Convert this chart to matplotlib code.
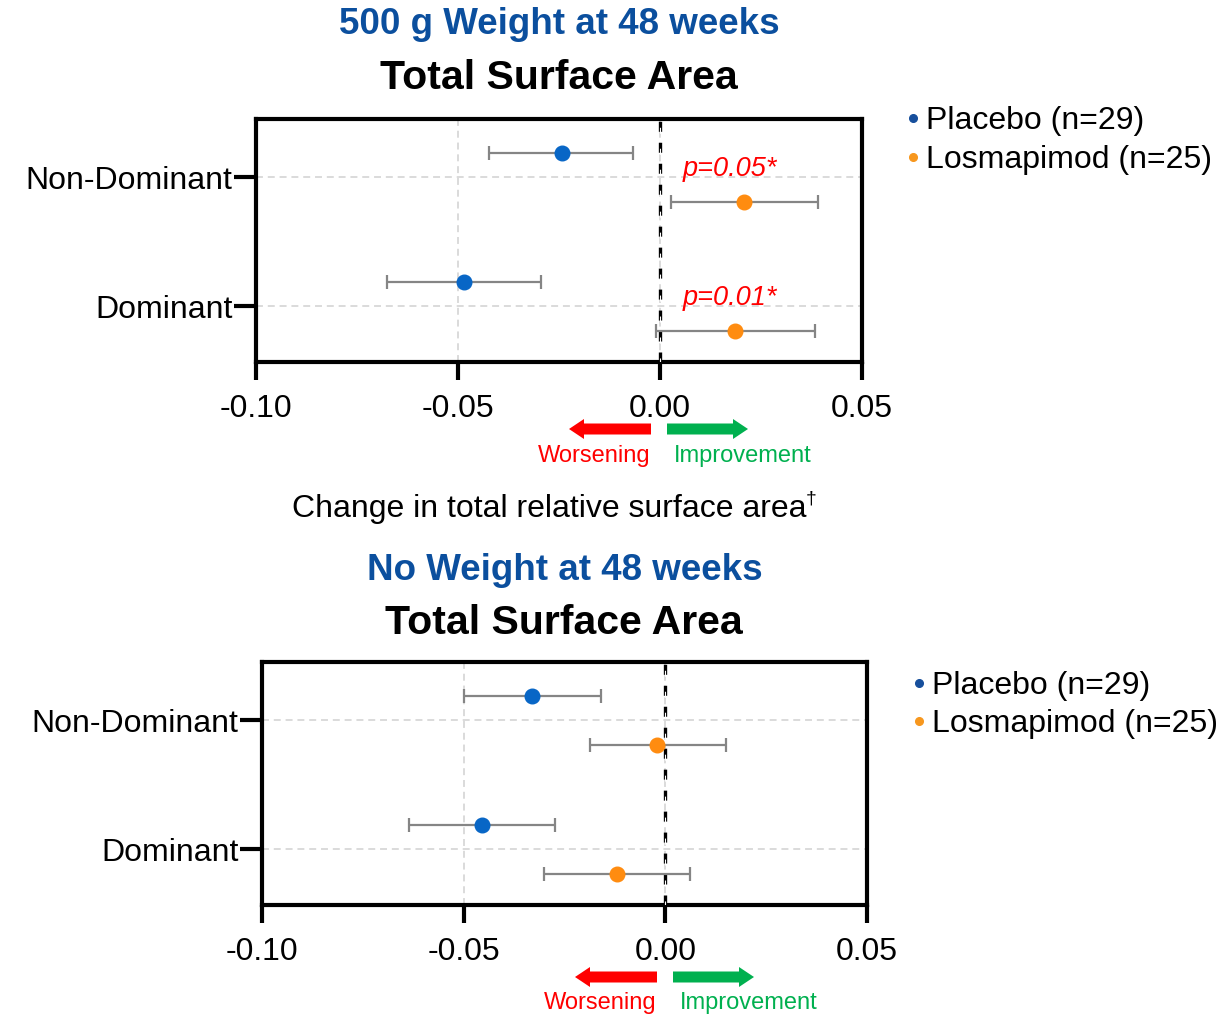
import matplotlib
matplotlib.use("Agg")
import matplotlib.pyplot as plt
from matplotlib.lines import Line2D
from matplotlib.patches import FancyArrow

plt.rcParams['font.family'] = ['Liberation Sans', 'DejaVu Sans']
plt.rcParams['lines.scale_dashes'] = False

# ---- data -------------------------------------------------------------
categories = ["Dominant", "Non-Dominant"]
groups = ["Placebo (n=29)", "Losmapimod (n=25)"]
xticks = [-0.10, -0.05, 0.00, 0.05]
xtick_labels = ["-0.10", "-0.05", "0.00", "0.05"]

# 500 g weight at 48 weeks: [Dominant, Non-Dominant]
w500_placebo_mean = [-0.0485, -0.0243]
w500_placebo_lo = [-0.0676, -0.0423]
w500_placebo_hi = [-0.0295, -0.0067]
w500_losma_mean = [0.0186, 0.0208]
w500_losma_lo = [-0.0010, 0.0027]
w500_losma_hi = [0.0384, 0.0391]
w500_pvalues = ["p=0.01*", "p=0.05*"]

# No weight at 48 weeks: [Dominant, Non-Dominant]
w0_placebo_mean = [-0.0454, -0.0330]
w0_placebo_lo = [-0.0635, -0.0500]
w0_placebo_hi = [-0.0273, -0.0159]
w0_losma_mean = [-0.0119, -0.0020]
w0_losma_lo = [-0.0300, -0.0188]
w0_losma_hi = [0.0062, 0.0151]

BLUE = "#0866c6"
ORANGE = "#ff8c10"
TITLE_BLUE = "#0b4f9e"
ERR_GRAY = "#858585"
GRID_GRAY = "#d4d4d4"
RED = "#ff0000"
GREEN = "#00b04f"

W, H = 1231, 1014
fig = plt.figure(figsize=(W / 100, H / 100), dpi=100)


def fx(px):
    return px / W


def fy(py):
    return 1 - py / H


def panel(rect, pm, plo, phi, lm, llo, lhi, pvals=None):
    ax = fig.add_axes(rect)
    offset = 0.19
    ypos = list(range(len(categories)))
    for means, lo, hi, col, sgn in ((pm, plo, phi, BLUE, 1), (lm, llo, lhi, ORANGE, -1)):
        ys = [y + sgn * offset for y in ypos]
        xerr = [[m - l for m, l in zip(means, lo)], [h - m for m, h in zip(means, hi)]]
        ax.errorbar(means, ys, xerr=xerr, fmt='o', color=col, ms=10.5,
                    ecolor=ERR_GRAY, elinewidth=1.6, capsize=5, capthick=1.6,
                    zorder=5)
    ax.set_xlim(-0.10, 0.05)
    ax.set_ylim(-0.43, 1.45)
    ax.set_xticks(xticks)
    ax.set_xticklabels(xtick_labels)
    ax.set_yticks(ypos)
    ax.set_yticklabels(categories)
    ax.tick_params(axis='both', labelsize=23, width=3, direction='out')
    ax.tick_params(axis='x', length=13, pad=10)
    ax.tick_params(axis='y', length=16, pad=1)
    for s in ax.spines.values():
        s.set_linewidth(3)
    # gridlines
    for y in ypos:
        ax.axhline(y, color=GRID_GRAY, lw=1.2, ls=(0, (5, 3.5)), zorder=1)
    for x in (-0.05, 0.0):
        ax.axvline(x, color=GRID_GRAY, lw=1.2, ls=(0, (5, 3.5)), zorder=1)
    # reference line at zero
    ax.axvline(0, color='black', lw=2.4, ls=(0, (7.2, 7.9)), zorder=3)
    ax.axvline(0, color='white', lw=0.8, ls=(1.4, (4.3, 10.8)), zorder=4)
    if pvals:
        for y, txt in zip(ypos, pvals):
            ax.text(0.0057, y + 0.065, txt, color=RED, fontsize=19.5,
                    fontstyle='italic', ha='left', va='center')
    return ax


ax1 = panel([fx(256), fy(362), fx(862) - fx(256), (362 - 119) / H],
            w500_placebo_mean, w500_placebo_lo, w500_placebo_hi,
            w500_losma_mean, w500_losma_lo, w500_losma_hi, w500_pvalues)
ax2 = panel([fx(262), fy(905), fx(867) - fx(262), (905 - 662) / H],
            w0_placebo_mean, w0_placebo_lo, w0_placebo_hi,
            w0_losma_mean, w0_losma_lo, w0_losma_hi)

# titles
fig.text(fx(559), fy(25), "500 g Weight at 48 weeks", color=TITLE_BLUE,
         fontsize=26.5, fontweight='bold', ha='center', va='center')
fig.text(fx(559), fy(78), "Total Surface Area", color='black',
         fontsize=29.5, fontweight='bold', ha='center', va='center')
fig.text(fx(565), fy(570), "No Weight at 48 weeks", color=TITLE_BLUE,
         fontsize=26.5, fontweight='bold', ha='center', va='center')
fig.text(fx(564), fy(623), "Total Surface Area", color='black',
         fontsize=29.5, fontweight='bold', ha='center', va='center')

# axis label
fig.text(fx(549), fy(509), "Change in total relative surface area", fontsize=23,
         ha='center', va='center')
fig.text(fx(806), fy(499), "\u2020", fontsize=14, ha='left', va='center')


# legends
def legend(x_dot, y0, dy):
    for i, (lab, col) in enumerate(zip(groups, ["#174f9c", "#f7971e"])):
        y = y0 + i * dy
        fig.add_artist(Line2D([fx(x_dot)], [fy(y)], transform=fig.transFigure,
                              marker='o', ms=5.5, color=col, lw=0))
        fig.text(fx(x_dot + 13), fy(y + 3), lab, fontsize=23, ha='left', va='center')


legend(913, 118, 39)
legend(919, 683, 38)


# direction arrows
def arrows(x0, y_arrow, y_text):
    yi = (H - y_arrow) / 100
    kw = dict(width=0.11, head_width=0.2, head_length=0.15,
              length_includes_head=True, transform=fig.dpi_scale_trans, lw=0)
    fig.add_artist(FancyArrow((x0 - 9) / 100, yi, -0.82, 0, color=RED, **kw))
    fig.add_artist(FancyArrow((x0 + 7) / 100, yi, 0.81, 0, color=GREEN, **kw))
    fig.text(fx(x0 - 66), fy(y_text + 2), "Worsening", color=RED, fontsize=17,
             ha='center', va='center')
    fig.text(fx(x0 + 83), fy(y_text + 2), "Improvement", color=GREEN, fontsize=17,
             ha='center', va='center')


arrows(660, 429, 454)
arrows(666, 977, 1001)

fig.savefig("out.png", dpi=100)
